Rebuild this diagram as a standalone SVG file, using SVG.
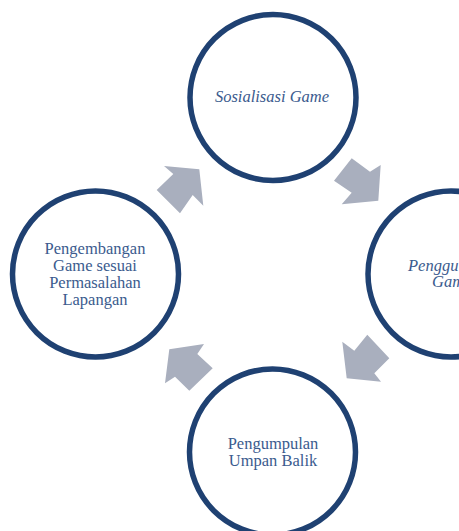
<svg xmlns="http://www.w3.org/2000/svg" width="459" height="531" viewBox="0 0 459 531">
<style>
.node{fill:#ffffff;stroke:#1F4172;stroke-width:5.5}
.lbl{font-family:"Liberation Serif","Times New Roman",serif;font-size:16.5px;fill:#3B5B8E;text-anchor:middle}
.it{font-style:italic}
.arr{fill:#A9AFBE}
</style>
<rect width="459" height="531" fill="#ffffff"/>
<g id="connectors">
<polygon class="arr" points="164,166 199.3,169.3 203.3,205.7 192.7,195 180,213.3 156.7,190 173.3,174"/>
<polygon class="arr" points="351.7,158.3 370,171.7 380.7,165 378.3,200.7 341.7,204.3 351.7,192.7 334,180.7"/>
<polygon class="arr" points="342.3,341.7 354.3,350.7 367.3,334.7 389.3,358.3 374.3,373.3 381,381.7 346.7,378.3"/>
<polygon class="arr" points="169.3,349.3 204,344 197.3,354 212.7,368.3 189.3,390.7 175,376.7 165,383.3"/>
</g>
<g id="node-sosialisasi">
<circle class="node" cx="273" cy="97.5" r="83"/>
<text class="lbl it" x="272" y="102">Sosialisasi Game</text>
</g>
<g id="node-penggunaan">
<circle class="node" cx="451" cy="274" r="83"/>
<text class="lbl it" x="408" y="271" style="text-anchor:start">Penggu</text>
<text class="lbl it" x="432" y="287" style="text-anchor:start">Gam</text>
</g>
<g id="node-umpan-balik">
<circle class="node" cx="272.5" cy="452" r="83"/>
<text class="lbl" x="273" y="449">Pengumpulan</text>
<text class="lbl" x="273" y="466">Umpan Balik</text>
</g>
<g id="node-pengembangan">
<circle class="node" cx="95.5" cy="274" r="83"/>
<text class="lbl" x="95" y="254">Pengembangan</text>
<text class="lbl" x="95" y="271">Game sesuai</text>
<text class="lbl" x="95" y="288">Permasalahan</text>
<text class="lbl" x="95" y="304.5">Lapangan</text>
</g>
</svg>
